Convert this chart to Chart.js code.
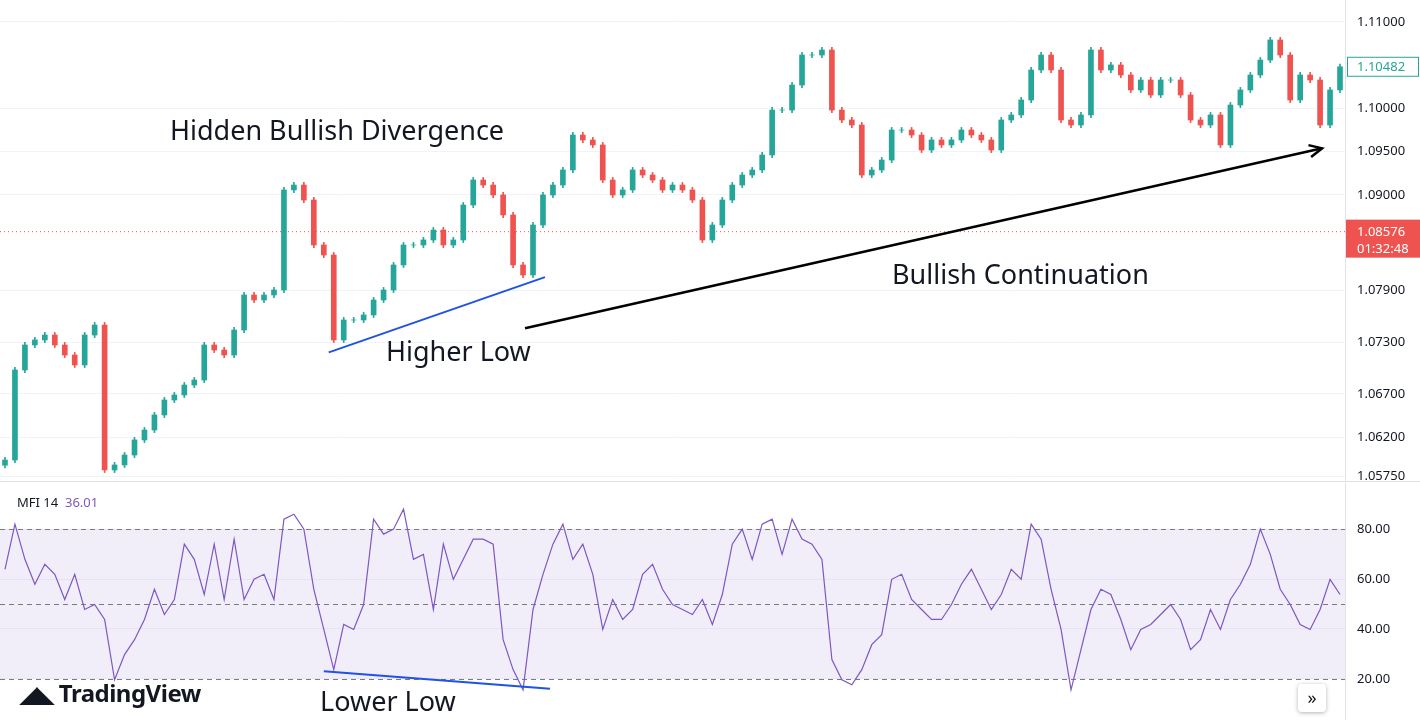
<!DOCTYPE html>
<html><head><meta charset="utf-8">
<script src="https://cdn.jsdelivr.net/npm/chart.js@4.4.1/dist/chart.umd.min.js"></script>
<style>
html,body{margin:0;padding:0;background:#fff;width:1420px;height:720px;overflow:hidden;font-family:"Noto Sans",sans-serif}
#c1{position:absolute;left:0;top:0}
#c2{position:absolute;left:0;top:483px}
.t{position:absolute;color:#131722;font-family:"Noto Sans",sans-serif;white-space:nowrap}
</style></head><body>
<canvas id="c1" width="1420" height="482"></canvas>
<canvas id="c2" width="1420" height="237"></canvas>
<div class="t" style="left:170px;top:111px;font-size:27px">Hidden Bullish Divergence</div>
<div class="t" style="left:386px;top:332px;font-size:27px">Higher Low</div>
<div class="t" style="left:892px;top:255px;font-size:27px">Bullish Continuation</div>
<div class="t" style="left:320px;top:682px;font-size:27px">Lower Low</div>
<div class="t" style="left:17px;top:493px;font-size:13px;color:#131722">MFI 14 <span style="color:#7e57c2">&nbsp;36.01</span></div>
<div class="t" style="left:20px;top:676px;font-size:24px;font-weight:bold;color:#131722;letter-spacing:-0.5px"><span style="font-size:22px">◢◣</span> TradingView</div>
<div class="t" style="left:1298px;top:684px;width:28px;height:28px;border-radius:4px;background:#fff;box-shadow:0 1px 4px rgba(0,0,0,.3);text-align:center;line-height:26px;font-size:18px">»</div>
<script>
const closes=[1.05936,1.06977,1.07266,1.07324,1.07381,1.07266,1.07150,1.07035,1.07381,1.07497,
1.05821,1.05879,1.05994,1.06168,1.06283,1.06457,1.06630,1.06688,1.06803,1.06861,
1.07266,1.07208,1.07150,1.07439,1.07844,1.07786,1.07844,1.07902,1.09058,1.09115,
1.08942,1.08422,1.08306,1.07324,1.07555,1.07555,1.07613,1.07786,1.07902,1.08191,
1.08422,1.08422,1.08480,1.08595,1.08422,1.08480,1.08884,1.09173,1.09115,1.09000,
1.08769,1.08191,1.08075,1.08653,1.09000,1.09115,1.09289,1.09693,1.09636,1.09578,
1.09173,1.09000,1.09058,1.09289,1.09231,1.09173,1.09058,1.09115,1.09058,1.08942,
1.08480,1.08653,1.08942,1.09115,1.09231,1.09289,1.09462,1.09982,1.09982,1.10271,
1.10618,1.10618,1.10676,1.09982,1.09867,1.09809,1.09231,1.09289,1.09404,1.09751,
1.09751,1.09693,1.09520,1.09636,1.09578,1.09636,1.09751,1.09693,1.09636,1.09520,
1.09867,1.09925,1.10098,1.10445,1.10618,1.10445,1.09867,1.09809,1.09925,1.10676,
1.10445,1.10503,1.10387,1.10214,1.10329,1.10156,1.10329,1.10329,1.10156,1.09867,
1.09809,1.09925,1.09578,1.10040,1.10214,1.10387,1.10560,1.10792,1.10618,1.10098,
1.10387,1.10329,1.09809,1.10214,1.10482];
const mfi=[63.9,82.0,67.9,57.9,65.9,61.9,51.8,61.9,47.8,49.8,
43.8,19.6,29.7,35.7,43.8,55.9,45.8,51.8,74.0,67.9,
53.8,74.0,51.8,76.0,51.8,59.9,61.9,51.8,84.0,86.0,
80.0,55.9,39.8,23.7,41.8,39.8,49.8,84.0,78.0,80.0,
88.0,67.9,69.9,47.8,74.0,59.9,67.9,76.0,76.0,74.0,
35.7,23.7,15.6,47.8,61.9,74.0,82.0,67.9,74.0,61.9,
39.8,51.8,43.8,47.8,61.9,65.9,55.9,49.8,47.8,45.8,
51.8,41.8,53.8,74.0,80.0,67.9,82.0,84.0,69.9,84.0,
76.0,74.0,67.9,27.7,19.6,17.6,23.7,33.7,37.7,59.9,
61.9,51.8,47.8,43.8,43.8,49.8,57.9,63.9,55.9,47.8,
53.8,63.9,59.9,82.0,76.0,55.9,39.8,15.6,31.7,47.8,
55.9,53.8,43.8,31.7,39.8,41.8,45.8,49.8,43.8,31.7,
35.7,47.8,39.8,51.8,57.9,65.9,80.0,69.9,55.9,49.8,
41.8,39.8,47.8,59.9,53.8];
const priceTicks=[1.05750,1.06200,1.06700,1.07300,1.07900,1.09000,1.09500,1.10000,1.11000];
const mfiTicks=[20,40,60,80];
const lastPrice=1.10482, markPrice=1.08576, countdown="01:32:48";
const higherLowLine=[[32.5,1.07180],[54.2,1.08050]];
const arrowLine=[[52.2,1.07460],[132.2,1.09540]];
const lowerLowLine=[[32.0,23.0],[54.7,16.0]];

const UP='#26a69a',DN='#ef5350';
const N=closes.length;
const opens=closes.map((c,i)=>i?closes[i-1]:c-0.0006);
const body=closes.map((c,i)=>({x:i,y:[opens[i],c]}));
const wick=closes.map((c,i)=>({x:i,y:[Math.min(opens[i],c)-0.0003,Math.max(opens[i],c)+0.0003]}));
const cols=closes.map((c,i)=>c>=opens[i]?UP:DN);
const mkX=()=>({type:'linear',min:-0.5,max:N-0.5,display:false,offset:false});
function axisFit(s){s.width=75;}
const gridC='#f0f3fa';

function drawTicks(ch,ticks,fmt){const c=ch.ctx,y=ch.scales.y,a=ch.chartArea;
  c.save();c.font='13px "Noto Sans"';c.fillStyle='#131722';c.textBaseline='middle';
  ticks.forEach(v=>c.fillText(fmt(v),a.right+12,y.getPixelForValue(v)));c.restore();}

const overlay1={id:'o1',
 beforeDatasetsDraw(ch){const c=ch.ctx,y=ch.scales.y,a=ch.chartArea;
  c.save();c.strokeStyle=DN;c.setLineDash([1,3]);c.lineWidth=1;
  const py=y.getPixelForValue(markPrice);c.beginPath();c.moveTo(a.left,py);c.lineTo(a.right,py);c.stroke();c.restore();},
 afterDraw(ch){const c=ch.ctx,x=ch.scales.x,y=ch.scales.y,a=ch.chartArea;
  drawTicks(ch,priceTicks,v=>v.toFixed(5));
  c.save();
  const L=(p,col,w)=>{c.strokeStyle=col;c.lineWidth=w;c.beginPath();c.moveTo(x.getPixelForValue(p[0][0]),y.getPixelForValue(p[0][1]));c.lineTo(x.getPixelForValue(p[1][0]),y.getPixelForValue(p[1][1]));c.stroke();};
  L(higherLowLine,'#1e53e5',2);L(arrowLine,'#000',2.5);
  const x1=x.getPixelForValue(arrowLine[1][0]),y1=y.getPixelForValue(arrowLine[1][1]);
  const x0=x.getPixelForValue(arrowLine[0][0]),y0=y.getPixelForValue(arrowLine[0][1]);
  const ang=Math.atan2(y1-y0,x1-x0);c.beginPath();
  c.moveTo(x1-14*Math.cos(ang-0.45),y1-14*Math.sin(ang-0.45));c.lineTo(x1,y1);
  c.lineTo(x1-14*Math.cos(ang+0.45),y1-14*Math.sin(ang+0.45));c.stroke();
  c.strokeStyle='#e0e3eb';c.lineWidth=1;c.beginPath();c.moveTo(a.right+0.5,0);c.lineTo(a.right+0.5,ch.height);c.stroke();
  c.beginPath();c.moveTo(0,ch.height-0.5);c.lineTo(ch.width,ch.height-0.5);c.stroke();
  c.font='13px "Noto Sans"';c.textBaseline='middle';
  let py=y.getPixelForValue(lastPrice);
  c.fillStyle='#fff';c.strokeStyle=UP;c.fillRect(a.right+2,py-10,72,20);c.strokeRect(a.right+2.5,py-9.5,71,19);
  c.fillStyle=UP;c.fillText(lastPrice.toFixed(5),a.right+12,py+1);
  py=y.getPixelForValue(markPrice);
  c.fillStyle=DN;c.fillRect(a.right+1,py-12,75,38);
  c.fillStyle='#fff';c.fillText(markPrice.toFixed(5),a.right+12,py+1);c.fillText(countdown,a.right+12,py+18);
  c.restore();}};

new Chart(document.getElementById('c1'),{type:'bar',
 data:{datasets:[
  {data:wick,backgroundColor:cols,barThickness:1,grouped:false,order:2},
  {data:body,backgroundColor:cols,barThickness:5,grouped:false,order:1}]},
 options:{responsive:false,animation:false,events:[],layout:{padding:0},
  plugins:{legend:{display:false},tooltip:{enabled:false}},
  scales:{x:mkX(),y:{position:'right',min:1.05682,max:1.11254,afterFit:axisFit,
   afterBuildTicks(s){s.ticks=priceTicks.map(v=>({value:v}));},
   grid:{color:gridC,drawTicks:false},border:{display:false},
   ticks:{display:false}}}},
 plugins:[overlay1]});

const overlay2={id:'o2',
 beforeDatasetsDraw(ch){const c=ch.ctx,y=ch.scales.y,a=ch.chartArea;c.save();
  const t=y.getPixelForValue(80),b=y.getPixelForValue(20);
  c.fillStyle='rgba(126,87,194,0.1)';c.fillRect(a.left,t,a.right-a.left,b-t);
  c.strokeStyle='#787b86';c.setLineDash([5,4]);c.lineWidth=1;
  [80,50,20].forEach(v=>{const p=Math.round(y.getPixelForValue(v))+0.5;c.beginPath();c.moveTo(a.left,p);c.lineTo(a.right,p);c.stroke();});
  c.restore();},
 afterDraw(ch){const c=ch.ctx,x=ch.scales.x,y=ch.scales.y,a=ch.chartArea;
  drawTicks(ch,mfiTicks,v=>v.toFixed(2));
  c.save();
  c.strokeStyle='#1e53e5';c.lineWidth=2;c.beginPath();
  c.moveTo(x.getPixelForValue(lowerLowLine[0][0]),y.getPixelForValue(lowerLowLine[0][1]));
  c.lineTo(x.getPixelForValue(lowerLowLine[1][0]),y.getPixelForValue(lowerLowLine[1][1]));c.stroke();
  c.strokeStyle='#e0e3eb';c.lineWidth=1;c.beginPath();c.moveTo(a.right+0.5,0);c.lineTo(a.right+0.5,ch.height);c.stroke();
  c.restore();}};

new Chart(document.getElementById('c2'),{type:'line',
 data:{datasets:[{data:mfi.map((v,i)=>({x:i,y:v})),borderColor:'#7e57c2',borderWidth:1.2,pointRadius:0,tension:0}]},
 options:{responsive:false,animation:false,events:[],layout:{padding:0},
  plugins:{legend:{display:false},tooltip:{enabled:false}},
  scales:{x:mkX(),y:{position:'right',min:3.5,max:98.5,afterFit:axisFit,
   afterBuildTicks(s){s.ticks=mfiTicks.map(v=>({value:v}));},
   grid:{color:gridC,drawTicks:false},border:{display:false},
   ticks:{display:false}}}},
 plugins:[overlay2]});
</script></body></html>
